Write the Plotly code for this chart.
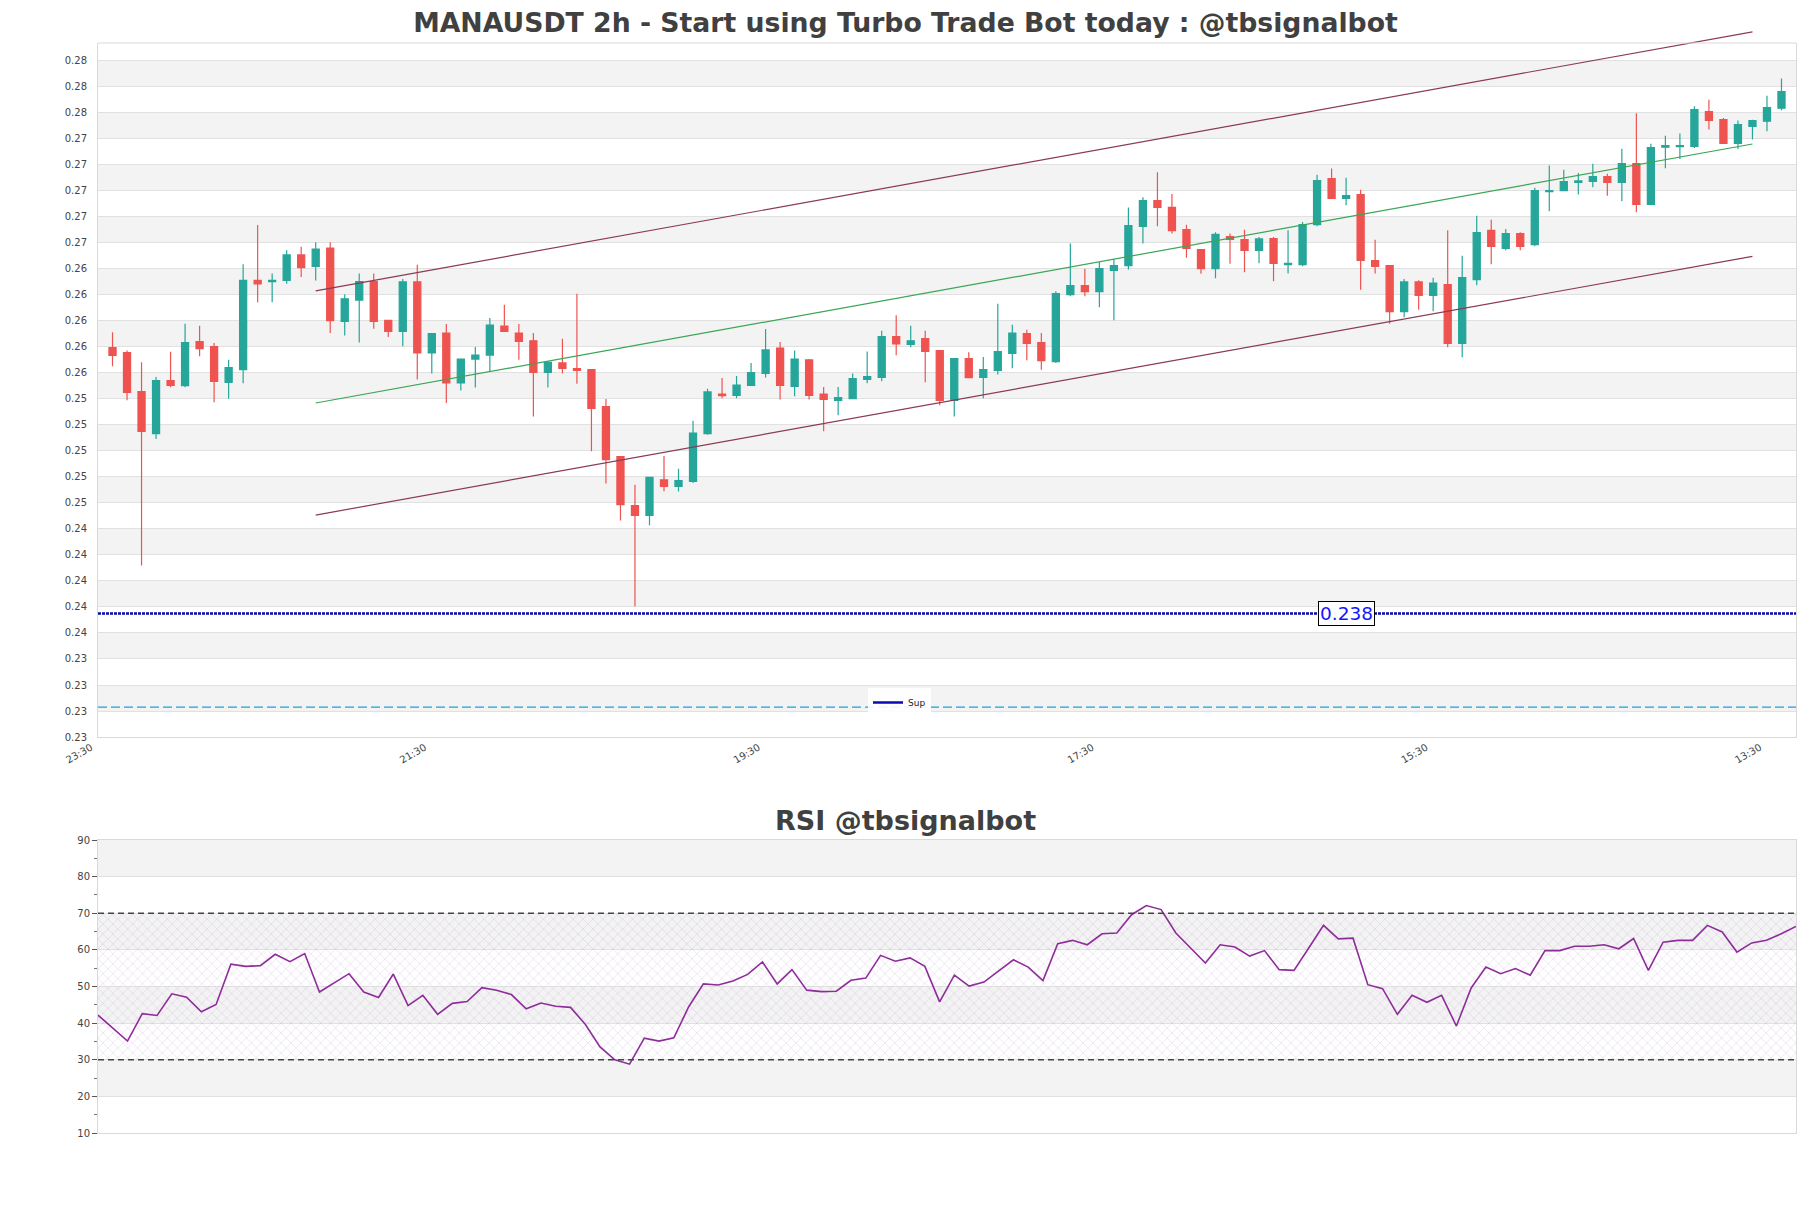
import plotly.graph_objects as go

# ---------------- data ----------------
open_ = [0.25795, 0.25756, 0.25456, 0.25133, 0.25541, 0.25502, 0.25841, 0.25802, 0.25528, 0.25625,
         0.26312, 0.26303, 0.26312, 0.26508, 0.26419, 0.26561, 0.25997, 0.26161, 0.26303, 0.26005,
         0.25920, 0.26300, 0.25754, 0.25907, 0.25523, 0.25707, 0.25738, 0.25961, 0.25907, 0.25848,
         0.25605, 0.25677, 0.25633, 0.25625, 0.25341, 0.24956, 0.24579, 0.24505, 0.24777, 0.24728,
         0.24766, 0.25133, 0.25438, 0.25428, 0.25505, 0.25597, 0.25792, 0.25497, 0.25700, 0.25438,
         0.25389, 0.25402, 0.25551, 0.25566, 0.25879, 0.25820, 0.25864, 0.25772, 0.25389, 0.25710,
         0.25566, 0.25620, 0.25751, 0.25902, 0.25833, 0.25687, 0.26202, 0.26272, 0.26225, 0.26389,
         0.26425, 0.26728, 0.26925, 0.26874, 0.26702, 0.26548, 0.26402, 0.26648, 0.26625, 0.26543,
         0.26633, 0.26433, 0.26433, 0.26741, 0.27095, 0.26943, 0.26972, 0.26464, 0.26426, 0.26072,
         0.26300, 0.26197, 0.26279, 0.25828, 0.26318, 0.26697, 0.26559, 0.26672, 0.26587, 0.26995,
         0.27002, 0.27066, 0.27074, 0.27110, 0.27066, 0.27210, 0.26897, 0.27336, 0.27341, 0.27343,
         0.27610, 0.27548, 0.27366, 0.27497, 0.27536, 0.27636]
high = [0.25913, 0.25772, 0.25682, 0.25569, 0.25764, 0.25979, 0.25964, 0.25831, 0.25702, 0.26437,
        0.26739, 0.26366, 0.26543, 0.26570, 0.26606, 0.26606, 0.26206, 0.26366, 0.26366, 0.26010,
        0.26323, 0.26433, 0.25908, 0.25977, 0.25707, 0.25800, 0.26023, 0.26125, 0.25977, 0.25907,
        0.25690, 0.25864, 0.26210, 0.25625, 0.25400, 0.24961, 0.24741, 0.24797, 0.24961, 0.24864,
        0.25233, 0.25479, 0.25561, 0.25577, 0.25677, 0.25938, 0.25838, 0.25772, 0.25708, 0.25492,
        0.25492, 0.25595, 0.25766, 0.25925, 0.26043, 0.25964, 0.25925, 0.25772, 0.25710, 0.25759,
        0.25723, 0.26133, 0.25971, 0.25933, 0.25907, 0.26228, 0.26595, 0.26402, 0.26453, 0.26477,
        0.26872, 0.26951, 0.27143, 0.26977, 0.26741, 0.26548, 0.26682, 0.26672, 0.26702, 0.26646,
        0.26646, 0.26697, 0.26761, 0.27125, 0.27172, 0.27102, 0.27010, 0.26625, 0.26426, 0.26323,
        0.26313, 0.26333, 0.26697, 0.26502, 0.26810, 0.26779, 0.26708, 0.26682, 0.27025, 0.27195,
        0.27164, 0.27138, 0.27210, 0.27133, 0.27325, 0.27597, 0.27364, 0.27425, 0.27441, 0.27651,
        0.27702, 0.27561, 0.27541, 0.27548, 0.27733, 0.27864]
low = [0.25651, 0.25390, 0.24120, 0.25092, 0.25490, 0.25490, 0.25728, 0.25374, 0.25402, 0.25520,
       0.26144, 0.26144, 0.26286, 0.26339, 0.26312, 0.25908, 0.25889, 0.25835, 0.25941, 0.25877,
       0.25805, 0.25549, 0.25595, 0.25369, 0.25466, 0.25489, 0.25613, 0.25920, 0.25702, 0.25266,
       0.25489, 0.25595, 0.25518, 0.24997, 0.24749, 0.24466, 0.23805, 0.24428, 0.24690, 0.24689,
       0.24754, 0.25125, 0.25405, 0.25405, 0.25505, 0.25566, 0.25395, 0.25420, 0.25395, 0.25151,
       0.25274, 0.25402, 0.25520, 0.25536, 0.25736, 0.25797, 0.25528, 0.25351, 0.25266, 0.25559,
       0.25405, 0.25589, 0.25636, 0.25697, 0.25625, 0.25677, 0.26190, 0.26190, 0.26105, 0.26005,
       0.26395, 0.26595, 0.26728, 0.26672, 0.26487, 0.26364, 0.26328, 0.26441, 0.26374, 0.26443,
       0.26305, 0.26366, 0.26420, 0.26728, 0.26938, 0.26890, 0.26241, 0.26366, 0.25979, 0.26028,
       0.26087, 0.26074, 0.25797, 0.25720, 0.26274, 0.26436, 0.26543, 0.26543, 0.26574, 0.26843,
       0.26997, 0.26972, 0.27028, 0.26964, 0.26920, 0.26836, 0.26897, 0.27174, 0.27246, 0.27331,
       0.27472, 0.27366, 0.27323, 0.27395, 0.27459, 0.27620]
close = [0.25736, 0.25451, 0.25151, 0.25541, 0.25505, 0.25833, 0.25787, 0.25536, 0.25641, 0.26312,
         0.26286, 0.26312, 0.26508, 0.26410, 0.26552, 0.26002, 0.26170, 0.26303, 0.25997, 0.25920,
         0.26300, 0.25754, 0.25902, 0.25523, 0.25707, 0.25738, 0.25969, 0.25920, 0.25843, 0.25605,
         0.25682, 0.25636, 0.25620, 0.25328, 0.24933, 0.24587, 0.24505, 0.24797, 0.24728, 0.24772,
         0.25138, 0.25454, 0.25425, 0.25507, 0.25602, 0.25777, 0.25505, 0.25707, 0.25428, 0.25397,
         0.25410, 0.25556, 0.25572, 0.25879, 0.25823, 0.25848, 0.25766, 0.25389, 0.25710, 0.25564,
         0.25625, 0.25764, 0.25907, 0.25828, 0.25695, 0.26210, 0.26272, 0.26225, 0.26402, 0.26425,
         0.26733, 0.26925, 0.26874, 0.26695, 0.26559, 0.26402, 0.26666, 0.26628, 0.26543, 0.26631,
         0.26443, 0.26443, 0.26741, 0.27079, 0.26943, 0.26964, 0.26466, 0.26420, 0.26072, 0.26300,
         0.26197, 0.26292, 0.25828, 0.26333, 0.26679, 0.26574, 0.26672, 0.26574, 0.27002, 0.27002,
         0.27072, 0.27077, 0.27110, 0.27066, 0.27210, 0.26897, 0.27333, 0.27349, 0.27349, 0.27625,
         0.27543, 0.27366, 0.27510, 0.27541, 0.27641, 0.27764]

rsi = [42.2, 38.6, 35.1, 42.6, 42.1, 48.0, 47.1, 43.1, 45.1, 56.1,
       55.5, 55.7, 58.8, 56.8, 59.0, 48.5, 51.0, 53.5, 48.5, 47.0,
       53.4, 44.8, 47.6, 42.4, 45.4, 45.9, 49.7, 49.0, 47.8, 43.9,
       45.5, 44.6, 44.3, 39.7, 33.5, 30.0, 28.8, 35.9, 35.1, 36.0,
       44.4, 50.7, 50.4, 51.5, 53.3, 56.7, 50.7, 54.6, 49.0, 48.6,
       48.7, 51.7, 52.3, 58.5, 56.9, 57.8, 55.5, 45.8, 53.1, 50.1,
       51.2, 54.2, 57.3, 55.3, 51.6, 61.7, 62.6, 61.4, 64.4, 64.6,
       69.6, 72.1, 71.0, 64.6, 60.5, 56.4, 61.4, 60.8, 58.3, 59.8,
       54.6, 54.4, 60.5, 66.7, 63.0, 63.2, 50.5, 49.4, 42.4, 47.6,
       45.7, 47.6, 39.2, 49.6, 55.3, 53.5, 54.9, 53.1, 59.8, 59.8,
       61.0, 61.0, 61.4, 60.3, 63.1, 54.4, 62.1, 62.6, 62.6, 66.7,
       64.9, 59.4, 61.9, 62.6, 64.4, 66.4]

tick_idx = [-1, 22, 45, 68, 91, 114]
tick_text = ["23:30", "21:30", "19:30", "17:30", "15:30", "13:30"]

chan_x = [14, 113]
chan_up = [0.26232, 0.28224]
chan_mid = [0.25369, 0.27361]
chan_lo = [0.24507, 0.26497]

sup_level = 0.2375
sup_label = "0.238"
sup_label_x = 85
dash_level = 0.2303
rsi_hi, rsi_lo = 70, 30

title_main = "MANAUSDT 2h - Start using Turbo Trade Bot today : @tbsignalbot"
title_rsi = "RSI @tbsignalbot"

# ---------------- layout geometry ----------------
W, H = 1811, 1208
L, R = 98, 15


def py(px):
    return 1 - px / H


main_dom = [py(737), py(43)]
rsi_dom = [py(1133), py(840)]
y_lo, y_hi = 0.228, 0.28138
y_tick0, y_dtick = 0.228, 0.002
y3_top = y_lo + (y_hi - y_lo) * (1.0 - main_dom[0]) / (main_dom[1] - main_dom[0])

n = len(close)
xs = list(range(n))
rx = list(range(len(rsi)))

GREEN = "#26a69a"
RED = "#ef5350"
MAROON = "#8b3a52"
CHGREEN = "#3aa655"
SUPBLUE = "#0b0bb0"

fig = go.Figure()

fig.add_trace(go.Candlestick(
    x=xs, open=open_, high=high, low=low, close=close,
    xaxis="x", yaxis="y", whiskerwidth=0,
    increasing=dict(line=dict(color=GREEN, width=1.2), fillcolor=GREEN),
    decreasing=dict(line=dict(color=RED, width=1.2), fillcolor=RED),
    showlegend=False, hoverinfo="skip"))

for ys, col in [(chan_up, MAROON), (chan_mid, CHGREEN), (chan_lo, MAROON)]:
    fig.add_trace(go.Scatter(x=chan_x, y=ys, mode="lines",
                             line=dict(color=col, width=1.2),
                             xaxis="x", yaxis="y3", showlegend=False, hoverinfo="skip"))

fig.add_trace(go.Scatter(x=[-1, n], y=[sup_level, sup_level], mode="lines",
                         line=dict(color=SUPBLUE, width=2.5, dash="3px,1px"),
                         xaxis="x", yaxis="y", showlegend=False, hoverinfo="skip"))
fig.add_trace(go.Scatter(x=[-1, n], y=[dash_level, dash_level], mode="lines",
                         line=dict(color="#1f9ee0", width=1.4, dash="9px,4px"),
                         xaxis="x", yaxis="y", showlegend=False, hoverinfo="skip"))
fig.add_trace(go.Scatter(x=[None], y=[None], mode="lines", name="Sup",
                         line=dict(color=SUPBLUE, width=2.5), xaxis="x", yaxis="y"))

# RSI
fig.add_trace(go.Scatter(x=[rx[0], rx[-1]], y=[rsi_lo, rsi_lo], mode="lines", line=dict(width=0),
                         xaxis="x2", yaxis="y2", showlegend=False, hoverinfo="skip"))
fig.add_trace(go.Scatter(x=[rx[0], rx[-1]], y=[rsi_hi, rsi_hi], mode="lines", line=dict(width=0),
                         fill="tonexty", fillcolor="rgba(0,0,0,0)",
                         fillpattern=dict(shape="x", fgcolor="#a880c0", fgopacity=0.5,
                                          size=7, solidity=0.1),
                         xaxis="x2", yaxis="y2", showlegend=False, hoverinfo="skip"))
fig.add_trace(go.Scatter(x=rx, y=rsi, mode="lines", line=dict(color="#8e2c9a", width=1.6),
                         xaxis="x2", yaxis="y2", showlegend=False, hoverinfo="skip"))

shapes = []
# alternating bands main chart
ticks = [y_tick0 + y_dtick * k for k in range(27)]
for k in range(len(ticks) - 1):
    if k % 2 == 1:
        shapes.append(dict(type="rect", xref="x domain", yref="y", x0=0, x1=1,
                           y0=ticks[k], y1=ticks[k + 1], fillcolor="#f3f3f3",
                           line=dict(width=0), layer="below"))
# alternating bands RSI
rt = list(range(10, 91, 10))
for k in range(len(rt) - 1):
    if k % 2 == 1:
        shapes.append(dict(type="rect", xref="x2 domain", yref="y2", x0=0, x1=1,
                           y0=rt[k], y1=rt[k + 1], fillcolor="#f3f3f3",
                           line=dict(width=0), layer="below"))
for lvl in (rsi_hi, rsi_lo):
    shapes.append(dict(type="line", xref="x2 domain", yref="y2", x0=0, x1=1, y0=lvl, y1=lvl,
                       line=dict(color="#444444", width=1.3, dash="6px,4px"), layer="above"))
# top frame line main chart
shapes.append(dict(type="line", xref="x domain", yref="y domain", x0=0, x1=1, y0=1, y1=1,
                   line=dict(color="#d9d9d9", width=1)))

annotations = [
    dict(x=sup_label_x, y=sup_level, xref="x", yref="y", text=sup_label, showarrow=False,
         font=dict(family="DejaVu Sans", size=18.5, color="#1515ff"), bgcolor="white",
         bordercolor="black", borderwidth=1, borderpad=1),
    dict(x=(W / 2 - L) / (W - L - R), y=py(820), xref="paper", yref="paper",
         text="<b>" + title_rsi + "</b>", showarrow=False, xanchor="center", yanchor="middle",
         font=dict(family="DejaVu Sans", size=27, color="#404040")),
]

fig.update_layout(
    width=W, height=H, margin=dict(l=L, r=R, t=0, b=0, autoexpand=False),
    paper_bgcolor="white", plot_bgcolor="rgba(0,0,0,0)",
    font=dict(family="DejaVu Sans", color="#444444"),
    title=dict(text="<b>" + title_main + "</b>", x=0.5, xref="container", xanchor="center",
               y=py(23), yref="container", yanchor="middle", automargin=False,
               font=dict(family="DejaVu Sans", size=26.7, color="#404040")),
    showlegend=True,
    legend=dict(x=(868 - L) / (W - L - R), y=py(688), xanchor="left", yanchor="top",
                bgcolor="rgba(255,255,255,0.9)", font=dict(size=9, color="#222222"),
                itemwidth=30, borderwidth=0),
    xaxis=dict(domain=[0, 1], anchor="y", range=[-1, n], tickmode="array",
               tickvals=tick_idx, ticktext=tick_text, tickangle=-30, ticklabelshift=-7,
               tickfont=dict(size=10, color="#444444"), showgrid=False, zeroline=False,
               showline=True, linecolor="#d9d9d9", rangeslider=dict(visible=False), ticks="",
               automargin=False),
    yaxis=dict(domain=main_dom, anchor="x", range=[y_lo, y_hi], tick0=y_tick0, dtick=y_dtick,
               tickformat=".2f", tickfont=dict(size=10, color="#444444"), showgrid=True,
               gridcolor="#e1e1e1", zeroline=False, showline=True, mirror=True,
               linecolor="#d9d9d9", ticklabelstandoff=8, automargin=False),
    yaxis3=dict(domain=[main_dom[0], 1.0], anchor="x", range=[y_lo, y3_top], visible=False,
                automargin=False),
    xaxis2=dict(domain=[0, 1], anchor="y2", range=[rx[0], rx[-1]], showticklabels=False,
                showgrid=False, zeroline=False, showline=True, mirror=True, linecolor="#d9d9d9",
                automargin=False),
    yaxis2=dict(domain=rsi_dom, anchor="x2", range=[10, 90], dtick=10, ticks="outside",
                ticklen=5, tickcolor="#555555",
                minor=dict(dtick=5, ticks="outside", ticklen=3, tickcolor="#777777", showgrid=False),
                tickfont=dict(size=10, color="#444444"), showgrid=True, gridcolor="#e1e1e1",
                zeroline=False, showline=True, mirror=True, linecolor="#d9d9d9",
                automargin=False),
    shapes=shapes, annotations=annotations,
)

fig.write_html("out.html")
